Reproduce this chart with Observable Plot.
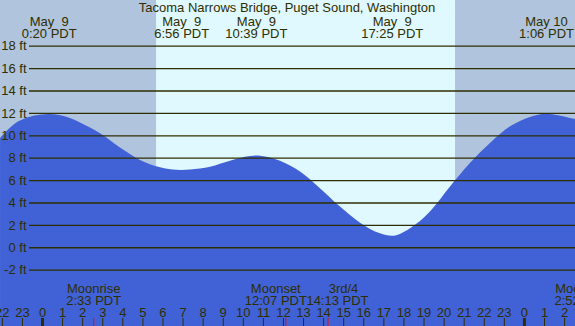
<!DOCTYPE html>
<html>
<head>
<meta charset="utf-8">
<script src="https://cdn.jsdelivr.net/npm/d3@7"></script>
<script src="https://cdn.jsdelivr.net/npm/@observablehq/plot@0.6"></script>
<style>
  html, body { margin: 0; padding: 0; overflow: hidden; background: #b0c4de; }
  svg { display: block; overflow: hidden; }
  svg text { white-space: pre; }
</style>
</head>
<body>
<div id="chart"></div>
<script>
// Title
const title = "Tacoma Narrows Bridge, Puget Sound, Washington";

// Tide curve (hours since May 9 00:00 PDT, feet)
const tideHours = [-2.09, -1.1, 0.33, 1.39, 1.89, 2.39, 2.89, 3.88, 4.88, 5.88, 6.93, 7.37, 8.37, 9.36, 10.36, 10.65, 10.86, 11.85, 12.85, 13.84, 14.84, 15.84, 16.83, 17.42, 18.33, 19.32, 20.32, 21.31, 22.31, 23.31, 24.3, 25.1, 26.3, 26.55];
const tideFeet  = [9.76, 11.33, 11.9, 11.55, 11.15, 10.7, 10.18, 8.9, 7.8, 7.15, 6.9, 6.95, 7.2, 7.73, 8.15, 8.2, 8.17, 7.73, 6.77, 5.28, 3.64, 2.2, 1.25, 1.02, 1.7, 3.19, 5.43, 7.52, 9.31, 10.8, 11.64, 11.93, 11.55, 11.45];

// High / low tide labels
const extremeHours = [0.333, 6.933, 10.65, 17.417, 25.1];
const extremeDates = ["May  9", "May  9", "May  9", "May  9", "May 10"];
const extremeTimes = ["0:20 PDT", "6:56 PDT", "10:39 PDT", "17:25 PDT", "1:06 PDT"];

// Sunrise / sunset
const sunrise = 5.68;
const sunset = 20.57;

// Moon events
const moonHours = [2.55, 12.117, 14.217, 26.867];
const moonNames = ["Moonrise", "Moonset", "3rd/4", "Moonrise"];
const moonTimes = ["2:33 PDT", "12:07 PDT", "14:13 PDT", "2:52 PDT"];

// Axis ticks
const feetTicks = [-2, 0, 2, 4, 6, 8, 10, 12, 14, 16, 18];
const hourTicks = d3.range(-2, 27);
const midnightTicks = [0, 24];

const xDomain = [-2.092, 26.544];
const yDomain = [-7.03, 22.08];

const tide = tideHours.map((h, i) => ({h, ft: tideFeet[i]}));
const extremes = extremeHours.map((h, i) => ({h, date: extremeDates[i], time: extremeTimes[i]}));
const moon = moonHours.map((h, i) => ({h, name: moonNames[i], time: moonTimes[i]}));

const ink = "#2e2e00";
const fs = 13;
const mid = 0.32 * fs; // baseline offset for lineAnchor middle

const moonText = (filter, dxName, dxTime) => [
  Plot.text(moon.filter(filter), {x: "h", text: "name", frameAnchor: "bottom", lineAnchor: "middle", dy: (292 - mid) - 326, dx: dxName, fill: ink, fontSize: fs}),
  Plot.text(moon.filter(filter), {x: "h", text: "time", frameAnchor: "bottom", lineAnchor: "middle", dy: (304 - mid) - 326, dx: dxTime, fill: ink, fontSize: fs})
];

const chart = Plot.plot({
  width: 575,
  height: 326,
  margin: 0,
  style: {background: "#b0c4de", fontFamily: "Liberation Sans, Arial, sans-serif", fontSize: fs + "px"},
  x: {domain: xDomain, axis: null},
  y: {domain: yDomain, axis: null},
  marks: [
    // daylight band
    Plot.rect([{a: sunrise, b: sunset}], {x1: "a", x2: "b", y1: yDomain[0], y2: yDomain[1], fill: "#e0f8ff"}),
    // tide area
    Plot.areaY(tide, {x: "h", y1: yDomain[0], y2: "ft", curve: "monotone-x", fill: "#4162d6"}),
    // grid lines
    Plot.ruleY(feetTicks, {insetLeft: 29, stroke: ink, strokeWidth: 1.3}),
    // y labels
    Plot.text(feetTicks, {y: d => d, text: d => `${d} ft`, frameAnchor: "left", textAnchor: "end", dx: 26, fill: ink, fontSize: fs}),
    // title
    Plot.text([title], {frameAnchor: "top", lineAnchor: "middle", dy: 12 - mid - 1, dx: -1, fill: ink, fontSize: fs}),
    // extremes
    Plot.text(extremes, {x: "h", text: "date", frameAnchor: "top", lineAnchor: "middle", dy: 25 - mid, fill: ink, fontSize: fs}),
    Plot.text(extremes, {x: "h", text: "time", frameAnchor: "top", lineAnchor: "middle", dy: 37 - mid, fill: ink, fontSize: fs}),
    // moon labels
    ...moonText(d => d.name === "Moonrise", 0, 0),
    ...moonText(d => d.name === "Moonset", -10, -10),
    ...moonText(d => d.name === "3rd/4", 15.5, 9.5),
    // hour labels
    Plot.text(hourTicks, {x: d => d, text: d => String(((d % 24) + 24) % 24), frameAnchor: "bottom", lineAnchor: "middle", dy: (316 - mid) - 326, fill: ink, fontSize: fs}),
    // hour ticks
    Plot.ruleX(hourTicks, {x: d => d, insetTop: 318, stroke: ink, strokeWidth: 1}),
    Plot.ruleX(midnightTicks, {x: d => d, insetTop: 318, stroke: ink, strokeWidth: 3}),
    Plot.ruleX(moonHours, {x: d => d, insetTop: 318, stroke: "#ff0000", strokeWidth: 1})
  ]
});
document.getElementById("chart").appendChild(chart);
</script>
</body>
</html>
